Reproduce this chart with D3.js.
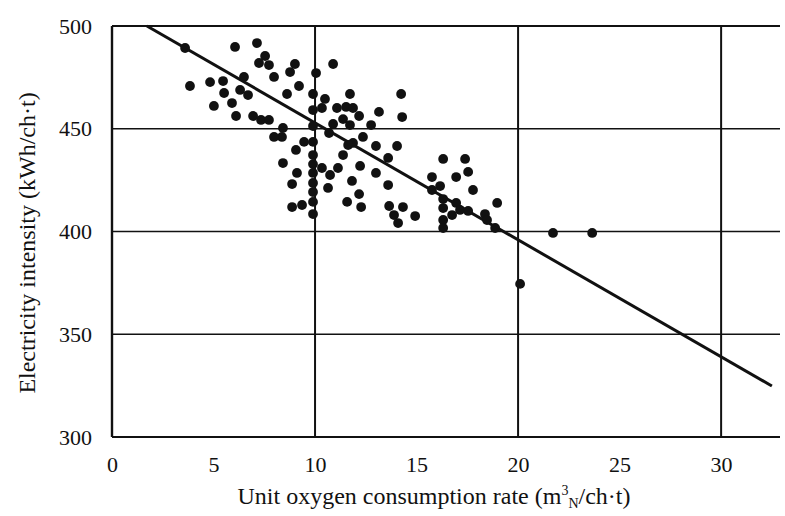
<!DOCTYPE html>
<html>
<head>
<meta charset="utf-8">
<script src="https://cdn.jsdelivr.net/npm/d3@7"></script>
<style>
  body { margin: 0; background: #fff; }
  text { font-family: "Liberation Serif", "DejaVu Serif", serif; fill: #111; }
</style>
</head>
<body>
<div id="chart"></div>
<script>
// oxygen consumption (m3N/ch.t) vs electricity intensity (kWh/ch.t)
const oxygen = [
  3.60, 3.84, 4.83, 5.02, 5.47, 5.52, 5.91, 6.06, 6.11, 6.31,
  6.50, 6.70, 6.95, 7.14, 7.34, 7.54, 7.24, 7.73, 7.73, 7.98,
  8.42, 8.37, 7.98, 8.62, 8.77, 9.01, 9.21, 9.06, 9.46, 8.42,
  9.11, 8.87, 8.87, 9.36, 9.90, 9.90, 9.90, 9.90, 9.90, 9.90,
  9.90, 9.90, 9.90, 9.90, 9.90, 10.05, 10.89, 10.49, 10.34, 11.08,
  11.53, 11.87, 11.72, 12.17, 11.38, 11.72, 10.89, 13.15, 14.24, 14.29,
  12.76, 10.69, 12.36, 11.87, 11.63, 13.00, 14.04, 11.38, 13.60, 12.22,
  11.13, 10.34, 10.74, 13.00, 11.82, 10.64, 11.58, 12.17, 12.27, 13.60,
  13.65, 14.33, 13.89, 14.09, 14.93, 16.31, 17.39, 15.76, 16.95, 17.54,
  16.16, 15.76, 17.78, 16.31, 16.31, 16.95, 17.14, 16.75, 17.54, 16.31,
  16.31, 18.37, 18.47, 18.87, 18.97, 21.72, 23.65, 20.10
];
const electricity = [
  489.3, 470.8, 472.7, 461.1, 473.2, 467.4, 462.5, 489.8, 456.2, 468.9,
  475.2, 466.4, 456.2, 491.7, 454.3, 485.4, 482.0, 481.0, 454.3, 475.2,
  450.4, 446.0, 446.0, 466.9, 477.6, 481.5, 470.8, 439.7, 443.6, 433.3,
  428.5, 423.1, 411.9, 412.9, 466.9, 459.1, 451.3, 443.6, 437.2, 432.8,
  428.5, 423.6, 419.2, 414.4, 408.5, 477.1, 481.5, 464.5, 460.1, 460.1,
  460.6, 460.1, 466.9, 456.2, 454.7, 451.8, 452.3, 458.2, 466.9, 455.7,
  451.8, 447.9, 446.0, 443.1, 442.1, 441.6, 441.6, 437.2, 435.8, 431.9,
  430.9, 430.9, 427.5, 428.5, 424.6, 421.2, 414.4, 418.2, 411.9, 422.6,
  412.4, 411.9, 408.0, 404.1, 407.5, 435.3, 435.3, 426.5, 426.5, 429.0,
  422.1, 420.2, 420.2, 415.8, 411.4, 413.9, 410.5, 408.0, 410.0, 405.6,
  401.7, 408.5, 405.6, 401.7, 413.9, 399.3, 399.3, 374.5
];

// fitted line end points
const fitX = [1.72, 32.5];
const fitY = [500, 324.8];

const xTicks = [0, 5, 10, 15, 20, 25, 30];
const yTicks = [300, 350, 400, 450, 500];
const xGrid = [10, 20, 30];
const yGrid = [350, 400, 450];

const w = 785, h = 516;
const space = { top: 26, right: 5, bottom: 79, left: 112 };

const svg = d3.select('#chart')
  .append('svg')
  .attr('width', w)
  .attr('height', h);

const xScale = d3.scaleLinear()
  .domain([0, 32.9])
  .range([space.left, w - space.right]);

const yScale = d3.scaleLinear()
  .domain([300, 500])
  .range([h - space.bottom, space.top]);

// grid
const grid = svg.append('g').attr('class', 'grid').attr('stroke', '#111');
grid.selectAll('.vline')
  .data(xGrid)
  .enter()
  .append('line')
  .attr('x1', d => xScale(d))
  .attr('x2', d => xScale(d))
  .attr('y1', yScale(500))
  .attr('y2', yScale(300))
  .attr('stroke-width', 2);
grid.selectAll('.hline')
  .data(yGrid)
  .enter()
  .append('line')
  .attr('x1', xScale(0))
  .attr('x2', w - space.right)
  .attr('y1', d => yScale(d))
  .attr('y2', d => yScale(d))
  .attr('stroke-width', 1.6);

// frame: top, bottom, left
grid.append('line')
  .attr('x1', xScale(0)).attr('x2', w - space.right)
  .attr('y1', yScale(500)).attr('y2', yScale(500))
  .attr('stroke-width', 2);
grid.append('line')
  .attr('x1', xScale(0)).attr('x2', w - space.right)
  .attr('y1', yScale(300)).attr('y2', yScale(300))
  .attr('stroke-width', 2);
grid.append('line')
  .attr('x1', xScale(0)).attr('x2', xScale(0))
  .attr('y1', yScale(500)).attr('y2', yScale(300))
  .attr('stroke-width', 2.4);

// axes (labels only)
const xAxis = d3.axisBottom(xScale)
  .tickValues(xTicks)
  .tickSize(0)
  .tickPadding(19)
  .tickFormat(d3.format('d'));
const yAxis = d3.axisLeft(yScale)
  .tickValues(yTicks)
  .tickSize(0)
  .tickPadding(20)
  .tickFormat(d3.format('d'));

svg.append('g')
  .attr('id', 'x-axis')
  .attr('transform', `translate(0, ${yScale(300)})`)
  .call(xAxis)
  .call(g => g.select('.domain').remove())
  .selectAll('text')
  .style('font-family', '"Liberation Serif", serif')
  .style('font-size', '22px')
  .attr('fill', '#111');

svg.append('g')
  .attr('id', 'y-axis')
  .attr('transform', `translate(${xScale(0)}, 0)`)
  .call(yAxis)
  .call(g => g.select('.domain').remove())
  .selectAll('text')
  .style('font-family', '"Liberation Serif", serif')
  .style('font-size', '22px')
  .attr('fill', '#111');

// fitted line
svg.append('line')
  .attr('x1', xScale(fitX[0]))
  .attr('y1', yScale(fitY[0]))
  .attr('x2', xScale(fitX[1]))
  .attr('y2', yScale(fitY[1]))
  .attr('stroke', '#111')
  .attr('stroke-width', 3);

// points
svg.append('g')
  .selectAll('circle')
  .data(oxygen)
  .enter()
  .append('circle')
  .attr('cx', d => xScale(d))
  .attr('cy', (d, i) => yScale(electricity[i]))
  .attr('r', 4.9)
  .attr('fill', '#111');

// axis titles
const xTitle = svg.append('text')
  .attr('x', 434)
  .attr('y', 504)
  .attr('text-anchor', 'middle')
  .style('font-size', '24px');
xTitle.append('tspan').text('Unit oxygen consumption rate (m');
xTitle.append('tspan').text('3').attr('dy', -9).style('font-size', '14px');
xTitle.append('tspan').text('N').attr('dy', 13).style('font-size', '14px');
xTitle.append('tspan').text('/ch·t)').attr('dy', -4);

svg.append('text')
  .text('Electricity intensity (kWh/ch·t)')
  .attr('transform', 'translate(35, 243) rotate(-90)')
  .attr('text-anchor', 'middle')
  .style('font-size', '24px');
</script>
</body>
</html>
